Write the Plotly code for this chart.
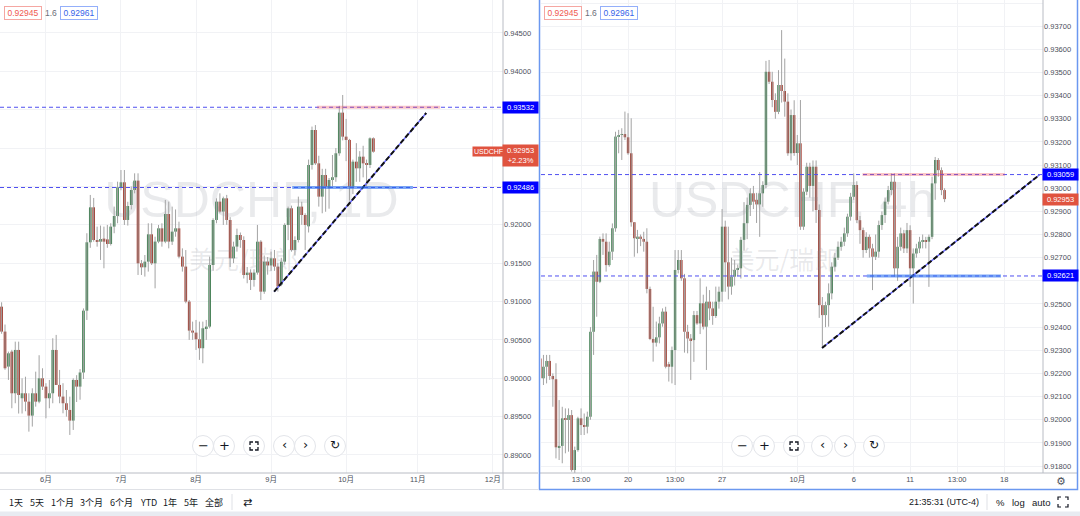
import plotly.graph_objects as go

# ---------------- DATA ----------------
# Daily USDCHF (bar index 0 = 12 May, last = 13 Oct)
d_open = [0.90369,0.90933,0.90608,0.90152,0.90347,0.89804,0.90369,0.89739,0.89804,0.89695,
          0.89513,0.89804,0.89695,0.89999,0.89891,0.89739,0.89804,0.90369,0.89913,0.89761,
          0.89674,0.89587,0.89448,0.89978,0.89891,0.90075,0.90881,0.91772,0.92228,0.91802,
          0.91780,0.91820,0.91810,0.91750,0.91976,0.92115,0.92489,0.92554,0.92063,0.92258,
          0.92454,0.92576,0.91498,0.91446,0.91520,0.91876,0.91498,0.91781,0.91954,0.91781,
          0.92141,0.91781,0.91911,0.91954,0.91585,0.91455,0.90999,0.90621,0.90595,0.90508,
          0.90391,0.90651,0.90673,0.91476,0.92063,0.92302,0.92172,0.92345,0.92063,0.91563,
          0.91716,0.91867,0.91802,0.91346,0.91377,0.91281,0.91377,0.91780,0.91129,0.91520,
          0.91470,0.91563,0.91455,0.91220,0.91520,0.91998,0.92215,0.91672,0.91802,0.92237,
          0.92128,0.91980,0.92780,0.93236,0.92801,0.92367,0.92649,0.92476,0.92584,0.92620,
          0.92932,0.93462,0.93149,0.93106,0.92497,0.92823,0.92736,0.92888,0.92801,0.92780,
          0.93127]
d_high = [0.90990,0.90990,0.90700,0.90347,0.90370,0.90477,0.90477,0.89999,0.90020,0.89804,
          0.89869,0.90086,0.90300,0.90130,0.89935,0.89978,0.90521,0.90565,0.90108,0.89935,
          0.89847,0.89760,0.89999,0.90040,0.90120,0.90910,0.91890,0.92389,0.92350,0.91976,
          0.91990,0.91976,0.91998,0.92020,0.92237,0.92562,0.92714,0.92714,0.92300,0.92500,
          0.92671,0.92671,0.91541,0.91606,0.92020,0.92020,0.91845,0.91998,0.92020,0.92324,
          0.92302,0.92237,0.92200,0.92041,0.91693,0.91671,0.91020,0.90738,0.90760,0.90738,
          0.90738,0.90760,0.91585,0.92085,0.92345,0.92410,0.92367,0.92390,0.92100,0.91780,
          0.91950,0.91900,0.91850,0.91450,0.91420,0.91420,0.91998,0.91800,0.91600,0.91580,
          0.91650,0.91672,0.91500,0.91570,0.92020,0.92237,0.92250,0.91850,0.92367,0.92300,
          0.92150,0.92850,0.93280,0.93300,0.92900,0.92730,0.92730,0.92610,0.92910,0.93000,
          0.93550,0.93692,0.93380,0.93120,0.92850,0.93064,0.92960,0.93030,0.92850,0.93140,
          0.93140]
d_low = [0.90300,0.90580,0.90110,0.89978,0.89609,0.89674,0.89540,0.89540,0.89570,0.89304,
         0.89370,0.89630,0.89674,0.89847,0.89478,0.89609,0.89674,0.89913,0.89674,0.89543,
         0.89500,0.89261,0.89326,0.89690,0.89720,0.89990,0.90760,0.91700,0.91780,0.91715,
         0.91542,0.91433,0.91700,0.91730,0.91890,0.92020,0.92450,0.91998,0.91990,0.92200,
         0.92410,0.91346,0.91346,0.91325,0.91390,0.91476,0.91172,0.91760,0.91715,0.91760,
         0.91693,0.91737,0.91845,0.91563,0.91390,0.90977,0.90500,0.90500,0.90369,0.90239,
         0.90195,0.90500,0.90651,0.91400,0.92020,0.92150,0.91998,0.92000,0.91450,0.91500,
         0.91650,0.91700,0.91300,0.91238,0.91150,0.91194,0.91350,0.91020,0.91100,0.91350,
         0.91400,0.91400,0.91130,0.91200,0.91480,0.91800,0.91650,0.91600,0.91770,0.92000,
         0.91672,0.91900,0.92720,0.92780,0.92237,0.92150,0.92170,0.92210,0.92500,0.92560,
         0.92900,0.93100,0.92830,0.92315,0.92400,0.92560,0.92560,0.92618,0.92500,0.92740,
         0.92940]
d_close = [0.90933,0.90608,0.90130,0.90325,0.89804,0.90369,0.89782,0.89804,0.89695,0.89513,
           0.89804,0.89695,0.89999,0.89891,0.89739,0.89804,0.90369,0.89913,0.89761,0.89674,
           0.89587,0.89448,0.89978,0.89891,0.90075,0.90881,0.91772,0.92228,0.91802,0.91780,
           0.91815,0.91780,0.91750,0.91976,0.92115,0.92489,0.92554,0.92063,0.92245,0.92454,
           0.92576,0.91498,0.91446,0.91520,0.91876,0.91498,0.91781,0.91954,0.91781,0.92141,
           0.91781,0.91911,0.91954,0.91585,0.91455,0.90999,0.90621,0.90595,0.90508,0.90391,
           0.90651,0.90673,0.91476,0.92063,0.92302,0.92172,0.92345,0.92063,0.91563,0.91716,
           0.91867,0.91802,0.91346,0.91377,0.91281,0.91377,0.91780,0.91129,0.91520,0.91470,
           0.91563,0.91455,0.91194,0.91520,0.91998,0.92215,0.91672,0.91802,0.92237,0.92128,
           0.91998,0.92780,0.93236,0.92801,0.92367,0.92649,0.92497,0.92584,0.92620,0.92932,
           0.93462,0.93149,0.93106,0.92497,0.92823,0.92736,0.92888,0.92801,0.92780,0.93127,
           0.92953]
d_tick_pos = [14, 36, 58, 80, 102, 123, 145]
d_tick_text = ["6月", "7月", "8月", "9月", "10月", "11月", "12月"]
d_price_ticks = [0.890, 0.895, 0.900, 0.905, 0.910, 0.915, 0.920, 0.925, 0.930, 0.935, 0.940, 0.945]
d_price_labels = ["0.89000", "0.89500", "0.90000", "0.90500", "0.91000", "0.91500", "0.92000",
                  "", "", "", "0.94000", "0.94500"]
d_levels = [0.93532, 0.92486]
d_res_zone_x = [93.5, 129.6]
d_sup_zone_x = [86.2, 121.6]
d_trend_x = [80.9, 125.5]
d_trend_y = [0.91128, 0.93457]

# 4h USDCHF (bar index 0 = 13 Sep 09:00, last = 12 Oct 21:00)
h_open = [0.92265,0.92179,0.92229,0.92254,0.92189,0.92175,0.91881,0.91887,0.92006,0.91999,
          0.92020,0.91783,0.91869,0.92006,0.91977,0.91970,0.92013,0.92380,0.92640,0.92596,
          0.92781,0.92769,0.92668,0.92726,0.92827,0.93223,0.93230,0.93234,0.93220,0.93151,
          0.92853,0.92784,0.92791,0.92781,0.92769,0.92565,0.92349,0.92333,0.92356,0.92416,
          0.92467,0.92240,0.92229,0.92301,0.92647,0.92690,0.92611,0.92380,0.92351,0.92344,
          0.92452,0.92416,0.92503,0.92402,0.92510,0.92481,0.92448,0.92510,0.92553,0.92834,
          0.92680,0.92575,0.92618,0.92647,0.92654,0.92777,0.92849,0.92928,0.92978,0.92950,
          0.92930,0.92978,0.93014,0.93503,0.93460,0.93381,0.93330,0.93446,0.93420,0.93374,
          0.93151,0.93316,0.93152,0.93194,0.92834,0.92985,0.93093,0.93010,0.93093,0.92906,
          0.92495,0.92452,0.92495,0.92546,0.92661,0.92700,0.92747,0.92769,0.92805,0.92877,
          0.92963,0.93014,0.92862,0.92819,0.92733,0.92790,0.92740,0.92704,0.92726,0.92841,
          0.92884,0.92942,0.92992,0.93028,0.92654,0.92747,0.92805,0.92740,0.92819,0.92654,
          0.92718,0.92740,0.92769,0.92776,0.92769,0.92790,0.93021,0.93122,0.93078,0.92992]
h_high = [0.92280,0.92280,0.92280,0.92280,0.92200,0.92244,0.92085,0.92056,0.92049,0.92049,
          0.92042,0.91884,0.92013,0.92049,0.92027,0.92035,0.92400,0.92690,0.92712,0.92791,
          0.92805,0.92805,0.92769,0.92848,0.93244,0.93252,0.93259,0.93331,0.93324,0.93302,
          0.92853,0.92820,0.92800,0.92812,0.92827,0.92575,0.92488,0.92424,0.92445,0.92481,
          0.92488,0.92250,0.92316,0.92733,0.92733,0.92733,0.92630,0.92410,0.92370,0.92470,
          0.92470,0.92611,0.92540,0.92575,0.92560,0.92510,0.92575,0.92575,0.92910,0.92860,
          0.92834,0.92700,0.92690,0.92670,0.92790,0.92940,0.92960,0.93000,0.93010,0.92980,
          0.93070,0.93030,0.93550,0.93554,0.93503,0.93410,0.93510,0.93683,0.93560,0.93410,
          0.93340,0.93380,0.93230,0.93381,0.93000,0.93110,0.93110,0.93120,0.93120,0.92930,
          0.92530,0.92510,0.92589,0.92680,0.92720,0.92770,0.92790,0.92830,0.92890,0.92980,
          0.93064,0.93030,0.92880,0.92830,0.92810,0.92800,0.92760,0.92800,0.92860,0.92900,
          0.92960,0.93010,0.93064,0.93064,0.92790,0.92830,0.92820,0.92850,0.92840,0.92740,
          0.92760,0.92790,0.92800,0.92790,0.92800,0.93050,0.93135,0.93130,0.93090,0.93000]
h_low = [0.92050,0.92150,0.92157,0.92172,0.92056,0.91833,0.91826,0.91812,0.91855,0.91862,
         0.91776,0.91769,0.91862,0.91934,0.91934,0.91941,0.92000,0.92280,0.92445,0.92590,
         0.92712,0.92640,0.92661,0.92690,0.92812,0.93151,0.93122,0.93208,0.93144,0.92834,
         0.92704,0.92719,0.92750,0.92726,0.92546,0.92344,0.92251,0.92316,0.92330,0.92402,
         0.92222,0.92165,0.92157,0.92150,0.92632,0.92600,0.92290,0.92287,0.92172,0.92250,
         0.92410,0.92370,0.92390,0.92215,0.92430,0.92410,0.92440,0.92480,0.92510,0.92553,
         0.92520,0.92540,0.92580,0.92620,0.92610,0.92730,0.92780,0.92880,0.92910,0.92850,
         0.92790,0.92920,0.93000,0.93450,0.93350,0.93300,0.93320,0.93370,0.93309,0.93140,
         0.93120,0.93140,0.93100,0.92820,0.92820,0.92970,0.92960,0.92900,0.92850,0.92440,
         0.92315,0.92400,0.92402,0.92520,0.92640,0.92690,0.92730,0.92750,0.92790,0.92860,
         0.92950,0.92850,0.92760,0.92700,0.92720,0.92700,0.92560,0.92690,0.92700,0.92820,
         0.92850,0.92930,0.92970,0.92618,0.92600,0.92730,0.92720,0.92720,0.92574,0.92502,
         0.92700,0.92720,0.92740,0.92740,0.92574,0.92780,0.92950,0.93050,0.92970,0.92940]
h_close = [0.92179,0.92229,0.92254,0.92189,0.92175,0.91881,0.91887,0.92006,0.91999,0.92020,
           0.91783,0.91869,0.92006,0.91977,0.91970,0.92013,0.92380,0.92640,0.92596,0.92781,
           0.92769,0.92668,0.92726,0.92827,0.93223,0.93230,0.93234,0.93220,0.93151,0.92853,
           0.92784,0.92791,0.92781,0.92769,0.92565,0.92349,0.92333,0.92356,0.92416,0.92467,
           0.92229,0.92229,0.92301,0.92647,0.92690,0.92611,0.92380,0.92351,0.92344,0.92452,
           0.92416,0.92503,0.92402,0.92510,0.92481,0.92448,0.92510,0.92553,0.92834,0.92680,
           0.92575,0.92618,0.92647,0.92654,0.92777,0.92849,0.92928,0.92978,0.92942,0.92930,
           0.92978,0.93014,0.93503,0.93460,0.93381,0.93330,0.93446,0.93420,0.93374,0.93151,
           0.93316,0.93152,0.93194,0.92834,0.92985,0.93093,0.93010,0.93093,0.92906,0.92495,
           0.92452,0.92495,0.92546,0.92661,0.92700,0.92747,0.92769,0.92805,0.92877,0.92963,
           0.93014,0.92862,0.92819,0.92733,0.92790,0.92740,0.92704,0.92726,0.92841,0.92884,
           0.92942,0.92992,0.93028,0.92654,0.92747,0.92805,0.92740,0.92819,0.92654,0.92718,
           0.92740,0.92769,0.92776,0.92769,0.92790,0.93021,0.93122,0.93078,0.92992,0.92953]
h_tick_pos = [13, 28, 43, 58, 82, 100, 118, 133, 148]
h_tick_text = ["13:00", "20", "13:00", "27", "10月", "6", "11", "13:00", "18"]
h_price_ticks = [0.918, 0.919, 0.920, 0.921, 0.922, 0.923, 0.924, 0.925, 0.926, 0.927, 0.928,
                 0.929, 0.930, 0.931, 0.932, 0.933, 0.934, 0.935, 0.936, 0.937, 0.938]
h_price_labels = ["0.91800", "0.91900", "0.92000", "0.92100", "0.92200", "0.92300", "0.92400",
                  "0.92500", "", "0.92700", "0.92800", "0.92900", "0.93000", "0.93100", "0.93200",
                  "0.93300", "0.93400", "0.93500", "0.93600", "0.93700", "0.93800"]
h_levels = [0.93059, 0.92621]
h_res_zone_x = [102.8, 148.2]
h_sup_zone_x = [104.2, 147.0]
h_trend_x = [89.9, 159.2]
h_trend_y = [0.92310, 0.93057]

last_price = 0.92953
change_pct = "+2.23%"
bid_price, spread, ask_price = "0.92945", "1.6", "0.92961"

# ---------------- STYLE / LAYOUT ----------------
W, H = 1080, 516
def PX(x): return x / W
def PY(y): return 1 - y / H

UP, DOWN, WICK = "#3d7f4f", "#a2372a", "#a3a3a3"
GRID = "#f1f2f5"
AXLINE = "#b9bcc4"
SANS = "Liberation Sans, Arial, Noto Sans CJK SC, sans-serif"
CJK = "Noto Sans CJK SC, sans-serif"

d_xr = [0.53, 148.0]
d_yr = [0.88765, 0.94930]
h_xr = [0.22, 160.4]
h_yr = [0.91770, 0.93813]
ydom = [1 - 473 / H, 1]

fig = go.Figure()

def at(rng, f):
    return rng[0] + f * (rng[1] - rng[0])

# watermarks (behind candles)
WM = "rgba(120,123,134,0.16)"
for xa, ya, xr, yr, title in [("x", "y", d_xr, d_yr, "USDCHF, 1D"), ("x2", "y2", h_xr, h_yr, "USDCHF, 4h")]:
    fig.add_trace(go.Scatter(x=[at(xr, 0.5)], y=[at(yr, 0.567)], mode="text", text=[title],
                             textfont=dict(size=50, color=WM, family=SANS),
                             xaxis=xa, yaxis=ya, hoverinfo="skip", showlegend=False))
    fig.add_trace(go.Scatter(x=[at(xr, 0.485)], y=[at(yr, 0.445)], mode="text", text=["美元/瑞郎"],
                             textfont=dict(size=25, color=WM, family=CJK),
                             xaxis=xa, yaxis=ya, hoverinfo="skip", showlegend=False))

def add_candles(o, h, l, c, xa, ya, minh):
    idx = list(range(len(o)))
    wx, wy = [], []
    for i in idx:
        wx += [i, i, None]
        wy += [l[i], h[i], None]
    fig.add_trace(go.Scatter(x=wx, y=wy, mode="lines", line=dict(color=WICK, width=1),
                             xaxis=xa, yaxis=ya, hoverinfo="skip", showlegend=False))
    base = [min(o[i], c[i]) for i in idx]
    hgt = [max(abs(c[i] - o[i]), minh) for i in idx]
    col = [UP if c[i] >= o[i] else DOWN for i in idx]
    fig.add_trace(go.Bar(x=idx, y=hgt, base=base, width=0.78, marker=dict(color=col, line=dict(width=0)),
                         xaxis=xa, yaxis=ya, hoverinfo="skip", showlegend=False))

add_candles(d_open, d_high, d_low, d_close, "x", "y", 0.00012)
add_candles(h_open, h_high, h_low, h_close, "x2", "y2", 0.00004)

# trend lines (black dashes over a blue line)
for xs, ys, xa, ya in [(d_trend_x, d_trend_y, "x", "y"), (h_trend_x, h_trend_y, "x2", "y2")]:
    fig.add_trace(go.Scatter(x=xs, y=ys, mode="lines", line=dict(color="#6b6bff", width=1.5),
                             xaxis=xa, yaxis=ya, hoverinfo="skip", showlegend=False))
    fig.add_trace(go.Scatter(x=xs, y=ys, mode="lines", line=dict(color="#111111", width=2, dash="5px,2.5px"),
                             xaxis=xa, yaxis=ya, hoverinfo="skip", showlegend=False))

shapes = []
for lv in d_levels:
    shapes.append(dict(type="line", xref="x domain", yref="y", x0=0, x1=1, y0=lv, y1=lv,
                       line=dict(color="#5050f0", width=1, dash="4px,3px")))
for lv in h_levels:
    shapes.append(dict(type="line", xref="x2 domain", yref="y2", x0=0, x1=1, y0=lv, y1=lv,
                       line=dict(color="#5050f0", width=1, dash="4px,3px")))
shapes.append(dict(type="line", xref="x", yref="y", x0=d_res_zone_x[0], x1=d_res_zone_x[1],
                   y0=d_levels[0], y1=d_levels[0], line=dict(color="rgba(242,70,80,0.32)", width=3)))
shapes.append(dict(type="line", xref="x", yref="y", x0=d_sup_zone_x[0], x1=d_sup_zone_x[1],
                   y0=d_levels[1], y1=d_levels[1], line=dict(color="rgba(40,110,240,0.6)", width=3)))
shapes.append(dict(type="line", xref="x2", yref="y2", x0=h_res_zone_x[0], x1=h_res_zone_x[1],
                   y0=h_levels[0], y1=h_levels[0], line=dict(color="rgba(242,70,80,0.32)", width=3)))
shapes.append(dict(type="line", xref="x2", yref="y2", x0=h_sup_zone_x[0], x1=h_sup_zone_x[1],
                   y0=h_levels[1], y1=h_levels[1], line=dict(color="rgba(40,110,240,0.6)", width=3)))

def pline(x0, y0, x1, y1, color, width=1):
    shapes.append(dict(type="line", xref="paper", yref="paper", x0=PX(x0), x1=PX(x1), y0=PY(y0), y1=PY(y1),
                       line=dict(color=color, width=width)))

pline(503, 0, 503, 489, AXLINE)
pline(0, 473, 538, 473, AXLINE)
pline(1043, 0, 1043, 473, AXLINE)
pline(540, 473, 1077, 473, AXLINE)
pline(0, 489.5, 538, 489.5, "#dfe1e6")
pline(232, 494, 232, 510, "#dfe1e6")
pline(987, 494, 987, 510, "#dfe1e6")
shapes.append(dict(type="rect", xref="paper", yref="paper", x0=PX(0), x1=PX(1080), y0=PY(516), y1=PY(511.5),
                   fillcolor="#e8ebf1", line=dict(width=0)))
shapes.append(dict(type="rect", xref="paper", yref="paper", x0=PX(539.5), x1=PX(1077.5), y0=PY(489.5), y1=PY(-3),
                   fillcolor="rgba(0,0,0,0)", line=dict(color="#6b98f0", width=1.5)))

annotations = []
def ann(text, x, y, size=9, color="#131722", family=SANS, **kw):
    d = dict(text=text, x=PX(x), y=PY(y), xref="paper", yref="paper", showarrow=False,
             font=dict(size=size, color=color, family=family), xanchor="center", yanchor="middle")
    d.update(kw)
    annotations.append(d)

def buttons(cx_list):
    glyphs = ["−", "+", None, "‹", "›", "↻"]
    for cx, g in zip(cx_list, glyphs):
        shapes.append(dict(type="circle", xref="paper", yref="paper", xsizemode="pixel", ysizemode="pixel",
                           xanchor=PX(cx), yanchor=PY(446), x0=-10.5, x1=10.5, y0=-10.5, y1=10.5,
                           fillcolor="white", line=dict(color="#e3e5ea", width=1)))
        if g is None:
            shapes.append(dict(type="path", xref="paper", yref="paper", xsizemode="pixel", ysizemode="pixel",
                               xanchor=PX(cx), yanchor=PY(446),
                               path="M-4,-1 L-4,-4 L-1,-4 M1,-4 L4,-4 L4,-1 M4,1 L4,4 L1,4 M-1,4 L-4,4 L-4,1",
                               line=dict(color="#131722", width=1.3)))
        else:
            ann(g, cx, 445 if g not in ("‹", "›") else 444, size=13 if g != "↻" else 12,
                color="#131722", family="DejaVu Sans, sans-serif")
buttons([203, 224, 254, 284, 305, 335])
buttons([742, 764, 794, 822, 845, 874])

for off in (0, 540):
    ann(bid_price, 23 + off, 12.5, size=8.5, color="#ef5a52", bordercolor="#f5a7a2", borderwidth=1,
        borderpad=1, bgcolor="white", width=34)
    ann(spread, 51 + off, 12.5, size=8.5, color="#6a6d78")
    ann(ask_price, 79 + off, 12.5, size=8.5, color="#3563e9", bordercolor="#94affa", borderwidth=1,
        borderpad=1, bgcolor="white", width=34)

def price_label(text, x, yval, yref, bg, yshift=0, width=33, size=7.5):
    annotations.append(dict(text=text, x=PX(x), y=yval, xref="paper", yref=yref, showarrow=False,
                            font=dict(size=size, color="white", family=SANS), bgcolor=bg,
                            borderpad=1, width=width, xanchor="center", yanchor="middle", yshift=yshift))
price_label(f"{d_levels[0]:.5f}", 520.5, d_levels[0], "y", "#0000ff")
price_label(f"{d_levels[1]:.5f}", 520.5, d_levels[1], "y", "#0000ff")
price_label(f"{last_price:.5f}<br>{change_pct}", 520.5, last_price, "y", "#e0533f", yshift=-4)
price_label("USDCHF", 488, last_price, "y", "#e0533f", width=29, size=7)
price_label(f"{h_levels[0]:.5f}", 1060, h_levels[0], "y2", "#0000ff")
price_label(f"{last_price:.5f}", 1060, last_price, "y2", "#e0533f")
price_label(f"{h_levels[1]:.5f}", 1060, h_levels[1], "y2", "#0000ff")

for t, x in [("1天", 16), ("5天", 37), ("1个月", 62), ("3个月", 91), ("6个月", 121), ("YTD", 148),
             ("1年", 170), ("5年", 191), ("全部", 214)]:
    ann(t, x, 502, size=9, color="#131722", family=CJK)
ann("⇄", 247, 502, size=11, color="#131722", family="DejaVu Sans, sans-serif")
ann("21:35:31 (UTC-4)", 944, 502, size=9, color="#131722")
ann("%", 1000, 502, size=9.5, color="#131722")
ann("log", 1018.5, 502, size=9.5, color="#131722")
ann("auto", 1041, 502, size=9.5, color="#131722")
shapes.append(dict(type="path", xref="paper", yref="paper", xsizemode="pixel", ysizemode="pixel",
                   xanchor=PX(1063), yanchor=PY(502),
                   path="M-5,-2 L-5,-5 L-2,-5 M2,-5 L5,-5 L5,-2 M5,2 L5,5 L2,5 M-2,5 L-5,5 L-5,2",
                   line=dict(color="#131722", width=1.2)))
ann("⚙", 1061, 481, size=11, color="#50535e", family="DejaVu Sans, sans-serif")

axis_common = dict(showgrid=True, gridcolor=GRID, gridwidth=1, zeroline=False, showline=False,
                   ticks="", fixedrange=True, automargin=False,
                   tickfont=dict(size=7.5, color="#4c4f5a", family=SANS))

fig.update_layout(
    width=W, height=H, margin=dict(l=0, r=0, t=0, b=0, autoexpand=False),
    paper_bgcolor="white", plot_bgcolor="white", showlegend=False, barmode="overlay",
    xaxis=dict(domain=[0, 503 / W], range=d_xr, anchor="y", tickmode="array",
               tickvals=d_tick_pos, ticktext=d_tick_text, **axis_common),
    yaxis=dict(domain=ydom, range=d_yr, anchor="x", side="right", tickmode="array",
               tickvals=d_price_ticks, ticktext=d_price_labels, **axis_common),
    xaxis2=dict(domain=[541 / W, 1043 / W], range=h_xr, anchor="y2", tickmode="array",
                tickvals=h_tick_pos, ticktext=h_tick_text, **axis_common),
    yaxis2=dict(domain=ydom, range=h_yr, anchor="x2", side="right", tickmode="array",
                tickvals=h_price_ticks, ticktext=h_price_labels, **axis_common),
    shapes=shapes, annotations=annotations,
)

fig.write_html("out.html", config={"displayModeBar": False},
               post_script="document.body.style.margin='0';document.body.style.overflow='hidden';")
